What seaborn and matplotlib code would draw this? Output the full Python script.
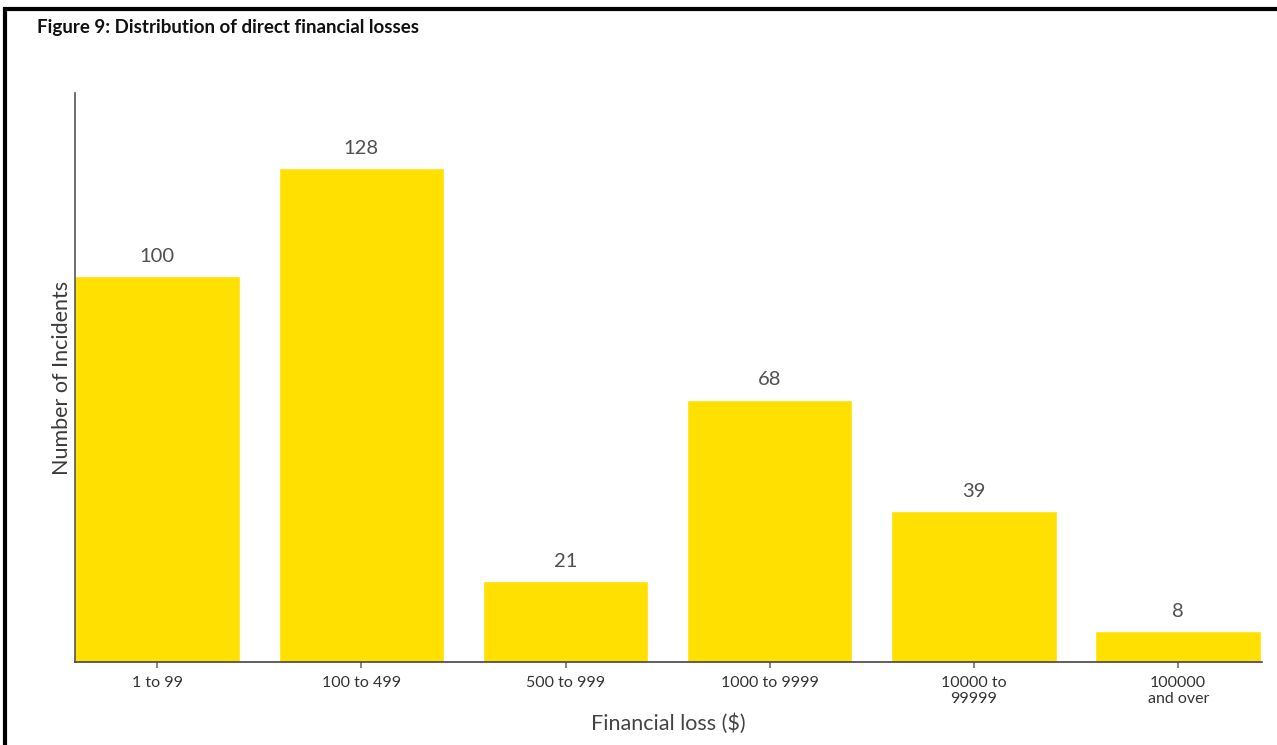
import numpy as np
import matplotlib.pyplot as plt
import seaborn as sns
import pandas as pd
from matplotlib.patches import Rectangle

# data
categories = ["1 to 99", "100 to 499", "500 to 999", "1000 to 9999", "10000 to\n99999", "100000\nand over"]
incidents = [100, 128, 21, 68, 39, 8]

df = pd.DataFrame({"loss": categories, "count": incidents})

sns.set_theme(style="white")
plt.rcParams['font.family'] = ['Lato', 'DejaVu Sans']

fig = plt.figure(figsize=(12.77, 7.45), dpi=100)
ax = fig.add_axes([0.0587, 0.1114, 0.9295, 0.7636])

sns.barplot(data=df, x="loss", y="count", color="#FFE000", saturation=1, width=0.81, ax=ax)

ax.set_xlim(-0.402, 5.41)
ax.set_ylim(0, 147.4)

# value labels on top of bars
for i, v in enumerate(incidents):
    ax.annotate(str(v), (i, v), xytext=(0, 8), textcoords="offset points",
                ha="center", va="bottom", fontsize=14.5, color="#505050")

sns.despine(ax=ax)
ax.spines["left"].set_color("#555555")
ax.spines["bottom"].set_color("#444444")
ax.spines["left"].set_linewidth(1.2)
ax.spines["bottom"].set_linewidth(1.2)
ax.set_yticks([])
ax.tick_params(axis="x", bottom=True, length=4, color="#777777", labelsize=11.5, labelcolor="#333333", pad=6)
ax.set_xlabel("Financial loss ($)", fontsize=15.5, color="#444444", labelpad=5)
ax.set_ylabel("Number of Incidents", fontsize=15.5, color="#3a3a3a", labelpad=2)

fig.text(37 / 1277, 1 - 27 / 745, "Figure 9: Distribution of direct financial losses",
         fontsize=13.5, fontweight="bold", color="#111111", ha="left", va="center")

# frame around the figure (open at right/bottom, as cropped)
fig.patches.append(Rectangle((5 / 1277, -0.1), 1.2, 1 - 9 / 745 + 0.1, transform=fig.transFigure,
                             fill=False, edgecolor="black", linewidth=3))

fig.savefig("out.png", dpi=100)
